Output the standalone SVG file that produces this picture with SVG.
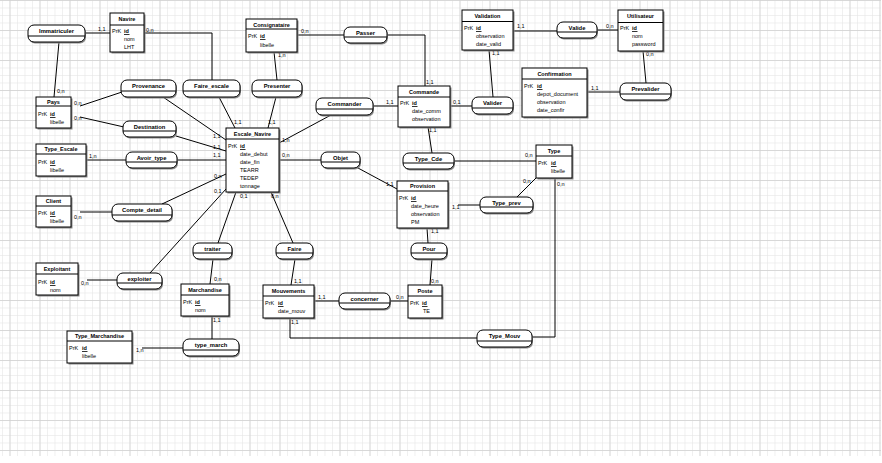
<svg xmlns="http://www.w3.org/2000/svg" width="882" height="463" viewBox="0 0 882 463">
<style>
text{font-family:"Liberation Sans",Arial,sans-serif;font-size:5.5px;fill:#000}
.t{font-weight:bold;text-anchor:middle}
.rt{font-weight:bold;text-anchor:middle;font-size:5.8px}
.box{fill:#fff;stroke:#000;stroke-width:1}
.sh{fill:#8a8a8a}
.hl{stroke:#000;stroke-width:1}
.ul{stroke:#000;stroke-width:0.8}
.rel{fill:#fff;stroke:#000;stroke-width:1}
.con line,.con polyline{stroke:#000;stroke-width:1;fill:none}
.c{font-size:5.5px}
</style>
<defs>
<pattern id="minor" patternUnits="userSpaceOnUse" x="2" y="0" width="7.5" height="7.5">
<rect x="0" y="0" width="0.6" height="7.5" fill="#e6e6e6"/>
<rect x="0" y="0" width="7.5" height="0.6" fill="#e6e6e6"/>
</pattern>
<pattern id="major" patternUnits="userSpaceOnUse" x="9.5" y="0" width="30" height="30">
<rect x="0" y="0" width="0.7" height="30" fill="#cfcfcf"/>
<rect x="0" y="0" width="30" height="0.7" fill="#cfcfcf"/>
</pattern>
</defs>
<rect width="882" height="463" fill="#fff"/>
<rect x="0" y="0" width="881" height="456" fill="url(#minor)"/>
<rect x="0" y="0" width="881" height="456" fill="url(#major)"/>

<g id="connectors" class="con">
<line x1="85" y1="33" x2="110" y2="33"/>
<line x1="59" y1="42" x2="54" y2="97"/>
<polyline points="144,33 212,33 212,80"/>
<line x1="80" y1="106" x2="122" y2="92"/>
<line x1="80" y1="117" x2="124" y2="127"/>
<line x1="163" y1="97" x2="226" y2="140"/>
<line x1="176" y1="136" x2="226" y2="151"/>
<line x1="177" y1="160" x2="226" y2="160"/>
<line x1="86" y1="160" x2="126" y2="160"/>
<line x1="162" y1="204" x2="226" y2="174"/>
<line x1="80" y1="212" x2="112" y2="212"/>
<line x1="150" y1="273" x2="226" y2="189"/>
<line x1="87" y1="280" x2="117" y2="280"/>
<line x1="218" y1="243" x2="236" y2="192"/>
<line x1="293" y1="243" x2="271" y2="192"/>
<line x1="219" y1="97" x2="235" y2="128"/>
<line x1="276" y1="97" x2="268" y2="128"/>
<line x1="277" y1="80" x2="274" y2="52"/>
<line x1="331" y1="115" x2="279" y2="143"/>
<line x1="373" y1="106" x2="398" y2="106"/>
<line x1="297" y1="35" x2="344" y2="35"/>
<polyline points="387,35 425,35 425,86"/>
<line x1="450" y1="106" x2="472" y2="106"/>
<line x1="493" y1="97" x2="489" y2="50"/>
<line x1="513" y1="31" x2="557" y2="31"/>
<line x1="597" y1="30" x2="618" y2="30"/>
<line x1="643" y1="51" x2="646" y2="83"/>
<line x1="587" y1="92" x2="620" y2="92"/>
<line x1="428" y1="127" x2="432" y2="153"/>
<line x1="454" y1="161" x2="536" y2="161"/>
<line x1="517" y1="197" x2="536" y2="178"/>
<line x1="458" y1="205" x2="480" y2="205"/>
<polyline points="555,178 555,337 532,337"/>
<polyline points="290,318 290,338 477,338"/>
<line x1="279" y1="160" x2="321" y2="160"/>
<line x1="358" y1="168" x2="397" y2="189"/>
<line x1="427" y1="228" x2="428" y2="243"/>
<line x1="432" y1="259" x2="430" y2="285"/>
<line x1="314" y1="301" x2="339" y2="301"/>
<line x1="390" y1="301" x2="408" y2="301"/>
<line x1="295" y1="259" x2="291" y2="285"/>
<line x1="213" y1="259" x2="210" y2="284"/>
<line x1="212" y1="316" x2="212" y2="339"/>
<line x1="142" y1="348" x2="183" y2="348"/>
</g>

<g id="cardinalities">
<text class="c" x="98" y="31">1,1</text>
<text class="c" x="57" y="93">0,n</text>
<text class="c" x="146" y="32">0,n</text>
<text class="c" x="74" y="105">0,n</text>
<text class="c" x="74" y="120">0,n</text>
<text class="c" x="213" y="138">1,1</text>
<text class="c" x="213" y="149">1,1</text>
<text class="c" x="213" y="157">1,1</text>
<text class="c" x="89" y="158">1,n</text>
<text class="c" x="214" y="178">0,n</text>
<text class="c" x="74" y="219">0,n</text>
<text class="c" x="214" y="193">0,1</text>
<text class="c" x="81" y="285">0,n</text>
<text class="c" x="240" y="198">0,1</text>
<text class="c" x="271" y="198">0,n</text>
<text class="c" x="234" y="124">1,1</text>
<text class="c" x="268" y="124">1,1</text>
<text class="c" x="278" y="57">1,n</text>
<text class="c" x="282" y="142">1,n</text>
<text class="c" x="386" y="104">1,1</text>
<text class="c" x="301" y="33">0,n</text>
<text class="c" x="426" y="84">1,1</text>
<text class="c" x="453" y="104">0,1</text>
<text class="c" x="492" y="55">1,1</text>
<text class="c" x="517" y="28">1,1</text>
<text class="c" x="606" y="28">0,n</text>
<text class="c" x="646" y="56">0,n</text>
<text class="c" x="591" y="90">1,1</text>
<text class="c" x="429" y="132">1,1</text>
<text class="c" x="525" y="157">0,n</text>
<text class="c" x="523" y="183">0,n</text>
<text class="c" x="452" y="209">1,1</text>
<text class="c" x="557" y="186">0,n</text>
<text class="c" x="291" y="324">1,1</text>
<text class="c" x="282" y="157">0,n</text>
<text class="c" x="386" y="186">1,1</text>
<text class="c" x="431" y="233">1,1</text>
<text class="c" x="431" y="283">0,n</text>
<text class="c" x="318" y="299">1,1</text>
<text class="c" x="396" y="299">0,n</text>
<text class="c" x="294" y="283">1,1</text>
<text class="c" x="214" y="281">0,n</text>
<text class="c" x="213" y="322">1,1</text>
<text class="c" x="136" y="352">1,n</text>
</g>

<g id="Immatriculer"><rect class="sh" x="29" y="26.5" width="57" height="17" rx="6"/><rect class="rel" x="28" y="25" width="57" height="17" rx="6"/><line class="hl" x1="28" y1="36" x2="85" y2="36"/><text class="rt" x="56.5" y="33">Immatriculer</text></g>
<g id="Provenance"><rect class="sh" x="122" y="81.5" width="55" height="17" rx="6"/><rect class="rel" x="121" y="80" width="55" height="17" rx="6"/><line class="hl" x1="121" y1="91" x2="176" y2="91"/><text class="rt" x="148.5" y="88">Provenance</text></g>
<g id="Faire_escale"><rect class="sh" x="184" y="81.5" width="57" height="17" rx="6"/><rect class="rel" x="183" y="80" width="57" height="17" rx="6"/><line class="hl" x1="183" y1="91" x2="240" y2="91"/><text class="rt" x="211.5" y="88">Faire_escale</text></g>
<g id="Presenter"><rect class="sh" x="253" y="81.5" width="50" height="17" rx="6"/><rect class="rel" x="252" y="80" width="50" height="17" rx="6"/><line class="hl" x1="252" y1="91" x2="302" y2="91"/><text class="rt" x="277" y="88">Presenter</text></g>
<g id="Destination"><rect class="sh" x="124" y="122.5" width="53" height="16" rx="6"/><rect class="rel" x="123" y="121" width="53" height="16" rx="6"/><line class="hl" x1="123" y1="131" x2="176" y2="131"/><text class="rt" x="149.5" y="129">Destination</text></g>
<g id="Passer"><rect class="sh" x="345" y="28.5" width="43" height="16" rx="6"/><rect class="rel" x="344" y="27" width="43" height="16" rx="6"/><line class="hl" x1="344" y1="37" x2="387" y2="37"/><text class="rt" x="365.5" y="35">Passer</text></g>
<g id="Commander"><rect class="sh" x="317" y="99.5" width="57" height="17" rx="6"/><rect class="rel" x="316" y="98" width="57" height="17" rx="6"/><line class="hl" x1="316" y1="109" x2="373" y2="109"/><text class="rt" x="344.5" y="106">Commander</text></g>
<g id="Valide"><rect class="sh" x="558" y="23.5" width="40" height="16" rx="6"/><rect class="rel" x="557" y="22" width="40" height="16" rx="6"/><line class="hl" x1="557" y1="32" x2="597" y2="32"/><text class="rt" x="577" y="30">Valide</text></g>
<g id="Valider"><rect class="sh" x="473" y="98.5" width="41" height="17" rx="6"/><rect class="rel" x="472" y="97" width="41" height="17" rx="6"/><line class="hl" x1="472" y1="108" x2="513" y2="108"/><text class="rt" x="492.5" y="105">Valider</text></g>
<g id="Prevalider"><rect class="sh" x="621" y="84.5" width="51" height="17" rx="6"/><rect class="rel" x="620" y="83" width="51" height="17" rx="6"/><line class="hl" x1="620" y1="94" x2="671" y2="94"/><text class="rt" x="645.5" y="91">Prevalider</text></g>
<g id="Avoir_type"><rect class="sh" x="127" y="153.5" width="51" height="16" rx="6"/><rect class="rel" x="126" y="152" width="51" height="16" rx="6"/><line class="hl" x1="126" y1="162" x2="177" y2="162"/><text class="rt" x="151.5" y="160">Avoir_type</text></g>
<g id="Objet"><rect class="sh" x="322" y="153.5" width="39" height="16" rx="6"/><rect class="rel" x="321" y="152" width="39" height="16" rx="6"/><line class="hl" x1="321" y1="162" x2="360" y2="162"/><text class="rt" x="340.5" y="160">Objet</text></g>
<g id="Type_Cde"><rect class="sh" x="404" y="154.5" width="51" height="16" rx="6"/><rect class="rel" x="403" y="153" width="51" height="16" rx="6"/><line class="hl" x1="403" y1="163" x2="454" y2="163"/><text class="rt" x="428.5" y="161">Type_Cde</text></g>
<g id="Compte_detail"><rect class="sh" x="113" y="205.5" width="60" height="17" rx="6"/><rect class="rel" x="112" y="204" width="60" height="17" rx="6"/><line class="hl" x1="112" y1="215" x2="172" y2="215"/><text class="rt" x="142" y="212">Compte_detail</text></g>
<g id="Type_prev"><rect class="sh" x="481" y="198.5" width="53" height="16" rx="6"/><rect class="rel" x="480" y="197" width="53" height="16" rx="6"/><line class="hl" x1="480" y1="207" x2="533" y2="207"/><text class="rt" x="506.5" y="205">Type_prev</text></g>
<g id="traiter"><rect class="sh" x="194" y="244.5" width="39" height="16" rx="6"/><rect class="rel" x="193" y="243" width="39" height="16" rx="6"/><line class="hl" x1="193" y1="253" x2="232" y2="253"/><text class="rt" x="212.5" y="251">traiter</text></g>
<g id="Faire"><rect class="sh" x="277" y="244.5" width="37" height="16" rx="6"/><rect class="rel" x="276" y="243" width="37" height="16" rx="6"/><line class="hl" x1="276" y1="253" x2="313" y2="253"/><text class="rt" x="294.5" y="251">Faire</text></g>
<g id="Pour"><rect class="sh" x="412" y="244.5" width="36" height="16" rx="6"/><rect class="rel" x="411" y="243" width="36" height="16" rx="6"/><line class="hl" x1="411" y1="253" x2="447" y2="253"/><text class="rt" x="429" y="251">Pour</text></g>
<g id="exploiter"><rect class="sh" x="118" y="274.5" width="45" height="16" rx="6"/><rect class="rel" x="117" y="273" width="45" height="16" rx="6"/><line class="hl" x1="117" y1="283" x2="162" y2="283"/><text class="rt" x="139.5" y="281">exploiter</text></g>
<g id="concerner"><rect class="sh" x="340" y="294.5" width="51" height="16" rx="6"/><rect class="rel" x="339" y="293" width="51" height="16" rx="6"/><line class="hl" x1="339" y1="303" x2="390" y2="303"/><text class="rt" x="364.5" y="301">concerner</text></g>
<g id="type_march"><rect class="sh" x="184" y="340.5" width="56" height="17" rx="6"/><rect class="rel" x="183" y="339" width="56" height="17" rx="6"/><line class="hl" x1="183" y1="350" x2="239" y2="350"/><text class="rt" x="211" y="347">type_march</text></g>
<g id="Type_Mouv"><rect class="sh" x="478" y="331.5" width="55" height="17" rx="6"/><rect class="rel" x="477" y="330" width="55" height="17" rx="6"/><line class="hl" x1="477" y1="341" x2="532" y2="341"/><text class="rt" x="504.5" y="338">Type_Mouv</text></g>

<g id="Navire"><rect class="sh" x="111.5" y="14.5" width="34" height="39"/><rect class="box" x="110" y="13" width="34" height="39"/><line class="hl" x1="110" y1="25" x2="144" y2="25"/><text class="t" x="127" y="21">Navire</text><text x="112" y="33">PrK</text><text x="124" y="33" font-weight="bold">id</text><line class="ul" x1="124" y1="34.5" x2="129.5" y2="34.5"/><text x="124" y="41">nom</text><text x="124" y="49">LHT</text></g>

<g id="Pays"><rect class="sh" x="37.5" y="98.5" width="35" height="31"/><rect class="box" x="36" y="97" width="35" height="31"/><line class="hl" x1="36" y1="106" x2="71" y2="106"/><text class="t" x="53.5" y="103.5">Pays</text><text x="38" y="116">PrK</text><text x="50" y="116" font-weight="bold">id</text><line class="ul" x1="50" y1="117.5" x2="55.5" y2="117.5"/><text x="50" y="124">libelle</text></g>

<g id="Consignataire"><rect class="sh" x="247.5" y="20.5" width="51" height="33"/><rect class="box" x="246" y="19" width="51" height="33"/><line class="hl" x1="246" y1="29" x2="297" y2="29"/><text class="t" x="271.5" y="26.5">Consignataire</text><text x="248" y="38">PrK</text><text x="260" y="38" font-weight="bold">id</text><line class="ul" x1="260" y1="39.5" x2="265.5" y2="39.5"/><text x="260" y="47">libelle</text></g>

<g id="Escale_Navire"><rect class="sh" x="227.5" y="129.5" width="53" height="64"/><rect class="box" x="226" y="128" width="53" height="64"/><line class="hl" x1="226" y1="139" x2="279" y2="139"/><text class="t" x="252.5" y="136">Escale_Navire</text><text x="228" y="148">PrK</text><text x="240" y="148" font-weight="bold">id</text><line class="ul" x1="240" y1="149.5" x2="245.5" y2="149.5"/><text x="240" y="156">date_debut</text><text x="240" y="164">date_fin</text><text x="240" y="172">TEARR</text><text x="240" y="180">TEDEP</text><text x="240" y="188">tonnage</text></g>

<g id="Commande"><rect class="sh" x="399.5" y="87.5" width="52" height="41"/><rect class="box" x="398" y="86" width="52" height="41"/><line class="hl" x1="398" y1="97" x2="450" y2="97"/><text class="t" x="424" y="94">Commande</text><text x="400" y="105">PrK</text><text x="412" y="105" font-weight="bold">id</text><line class="ul" x1="412" y1="106.5" x2="417.5" y2="106.5"/><text x="412" y="113">date_comm</text><text x="412" y="121">observation</text></g>

<g id="Validation"><rect class="sh" x="463.5" y="11.5" width="51" height="40"/><rect class="box" x="462" y="10" width="51" height="40"/><line class="hl" x1="462" y1="21.5" x2="513" y2="21.5"/><text class="t" x="487.5" y="18">Validation</text><text x="464" y="30">PrK</text><text x="476" y="30" font-weight="bold">id</text><line class="ul" x1="476" y1="31.5" x2="481.5" y2="31.5"/><text x="476" y="38">observation</text><text x="476" y="46">date_valid</text></g>

<g id="Utilisateur"><rect class="sh" x="619.5" y="11.5" width="45" height="41"/><rect class="box" x="618" y="10" width="45" height="41"/><line class="hl" x1="618" y1="22.5" x2="663" y2="22.5"/><text class="t" x="640.5" y="18">Utilisateur</text><text x="620" y="30">PrK</text><text x="632" y="30" font-weight="bold">id</text><line class="ul" x1="632" y1="31.5" x2="637.5" y2="31.5"/><text x="632" y="38">nom</text><text x="632" y="46">password</text></g>

<g id="Confirmation"><rect class="sh" x="523.5" y="69.5" width="65" height="49"/><rect class="box" x="522" y="68" width="65" height="49"/><line class="hl" x1="522" y1="79" x2="587" y2="79"/><text class="t" x="554.5" y="76">Confirmation</text><text x="524" y="88">PrK</text><text x="537" y="88" font-weight="bold">id</text><line class="ul" x1="537" y1="89.5" x2="542.5" y2="89.5"/><text x="537" y="96">depot_document</text><text x="537" y="104">observation</text><text x="537" y="112">date_confir</text></g>

<g id="Type"><rect class="sh" x="537.5" y="146.5" width="36" height="33"/><rect class="box" x="536" y="145" width="36" height="33"/><line class="hl" x1="536" y1="156" x2="572" y2="156"/><text class="t" x="554" y="153">Type</text><text x="538" y="165">PrK</text><text x="551" y="165" font-weight="bold">id</text><line class="ul" x1="551" y1="166.5" x2="556.5" y2="166.5"/><text x="551" y="173">libelle</text></g>

<g id="Provision"><rect class="sh" x="398.5" y="182.5" width="51" height="47"/><rect class="box" x="397" y="181" width="51" height="47"/><line class="hl" x1="397" y1="191" x2="448" y2="191"/><text class="t" x="422.5" y="188">Provision</text><text x="399" y="200">PrK</text><text x="411" y="200" font-weight="bold">id</text><line class="ul" x1="411" y1="201.5" x2="416.5" y2="201.5"/><text x="411" y="208">date_heure</text><text x="411" y="216">observation</text><text x="411" y="224">PM</text></g>

<g id="Mouvements"><rect class="sh" x="264.5" y="286.5" width="51" height="33"/><rect class="box" x="263" y="285" width="51" height="33"/><line class="hl" x1="263" y1="296" x2="314" y2="296"/><text class="t" x="288.5" y="293">Mouvements</text><text x="265" y="305">PrK</text><text x="278" y="305" font-weight="bold">id</text><line class="ul" x1="278" y1="306.5" x2="283.5" y2="306.5"/><text x="278" y="313">date_mouv</text></g>

<g id="Poste"><rect class="sh" x="409.5" y="286.5" width="34" height="33"/><rect class="box" x="408" y="285" width="34" height="33"/><line class="hl" x1="408" y1="296" x2="442" y2="296"/><text class="t" x="425" y="293">Poste</text><text x="410" y="305">PrK</text><text x="422" y="305" font-weight="bold">id</text><line class="ul" x1="422" y1="306.5" x2="427.5" y2="306.5"/><text x="423" y="313">TE</text></g>

<g id="Marchandise"><rect class="sh" x="182.5" y="285.5" width="48" height="32"/><rect class="box" x="181" y="284" width="48" height="32"/><line class="hl" x1="181" y1="295" x2="229" y2="295"/><text class="t" x="205" y="292">Marchandise</text><text x="183" y="304">PrK</text><text x="195" y="304" font-weight="bold">id</text><line class="ul" x1="195" y1="305.5" x2="200.5" y2="305.5"/><text x="195" y="312">nom</text></g>

<g id="Type_Marchandise"><rect class="sh" x="68.5" y="332.5" width="65" height="32"/><rect class="box" x="67" y="331" width="65" height="32"/><line class="hl" x1="67" y1="341" x2="132" y2="341"/><text class="t" x="99.5" y="338">Type_Marchandise</text><text x="69" y="350">PrK</text><text x="82" y="350" font-weight="bold">id</text><line class="ul" x1="82" y1="351.5" x2="87.5" y2="351.5"/><text x="82" y="358">libelle</text></g>

<g id="Type_Escale"><rect class="sh" x="37.5" y="145.5" width="50" height="32"/><rect class="box" x="36" y="144" width="50" height="32"/><line class="hl" x1="36" y1="154" x2="86" y2="154"/><text class="t" x="61" y="151">Type_Escale</text><text x="38" y="164">PrK</text><text x="50" y="164" font-weight="bold">id</text><line class="ul" x1="50" y1="165.5" x2="55.5" y2="165.5"/><text x="50" y="172">libelle</text></g>

<g id="Client"><rect class="sh" x="37.5" y="197.5" width="35" height="31"/><rect class="box" x="36" y="196" width="35" height="31"/><line class="hl" x1="36" y1="206" x2="71" y2="206"/><text class="t" x="53.5" y="203">Client</text><text x="38" y="215">PrK</text><text x="50" y="215" font-weight="bold">id</text><line class="ul" x1="50" y1="216.5" x2="55.5" y2="216.5"/><text x="50" y="223">libelle</text></g>

<g id="Exploitant"><rect class="sh" x="37.5" y="264.5" width="42" height="32"/><rect class="box" x="36" y="263" width="42" height="32"/><line class="hl" x1="36" y1="274" x2="78" y2="274"/><text class="t" x="57" y="271">Exploitant</text><text x="38" y="284">PrK</text><text x="50" y="284" font-weight="bold">id</text><line class="ul" x1="50" y1="285.5" x2="55.5" y2="285.5"/><text x="50" y="292">nom</text></g>
</svg>
